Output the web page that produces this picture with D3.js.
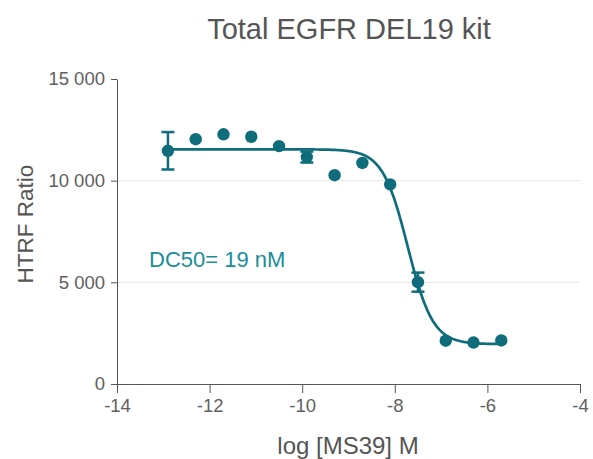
<!DOCTYPE html>
<html>
<head>
<meta charset="utf-8">
<script src="https://cdn.jsdelivr.net/npm/d3@7"></script>
<style>
  body { margin: 0; background: #fff; }
  text { font-family: "Liberation Sans", Arial, sans-serif; }
</style>
</head>
<body>
<div id="chart"></div>
<script>
// data
const logConc = [-12.9, -12.3, -11.7, -11.1, -10.5, -9.9, -9.3, -8.7, -8.1, -7.5, -6.9, -6.3, -5.7];
const htrf    = [11470, 12040, 12280, 12160, 11700, 11160, 10270, 10870, 9820, 5010, 2130, 2040, 2140];
const errs    = [920, 0, 0, 0, 0, 270, 0, 0, 0, 470, 0, 0, 0];
const xTicks = [-14, -12, -10, -8, -6, -4];
const yTicks = [0, 5000, 10000, 15000];
const gridLines = [5000, 10000];

// 4PL fit parameters
const fitTop = 11540, fitBottom = 1960, logDC50 = -7.72, hill = 1.6;

const width = 593, height = 459;
const margin = {top: 79, right: 13, bottom: 75, left: 117};
const teal = "#0f6d7b";

let svg = d3.select("#chart")
    .append("svg")
    .attr("width", width)
    .attr("height", height);

let x = d3.scaleLinear().domain([-14, -4]).range([margin.left, width - margin.right]);
let y = d3.scaleLinear().domain([0, 15000]).range([height - margin.bottom, margin.top]);

// gridlines
svg.append("g").selectAll("line")
    .data(gridLines)
    .enter().append("line")
    .attr("x1", x(-14)).attr("x2", x(-4) + 1)
    .attr("y1", d => y(d)).attr("y2", d => y(d))
    .attr("stroke", "#ebebeb")
    .attr("stroke-width", 1.2);

// axes
let fmt = d => d3.format(",")(d).replace(/,/g, " ");

let yAxis = svg.append("g")
    .attr("transform", `translate(${margin.left},0)`)
    .call(d3.axisLeft(y).tickValues(yTicks).tickFormat(fmt).tickSize(6).tickPadding(6).tickSizeOuter(0));

let xAxis = svg.append("g")
    .attr("transform", `translate(0,${height - margin.bottom})`)
    .call(d3.axisBottom(x).tickValues(xTicks).tickFormat(d => String(d)).tickSize(9).tickPadding(6).tickSizeOuter(0));

[yAxis, xAxis].forEach(function(a) {
    a.select(".domain").attr("stroke", "#555");
    a.selectAll(".tick line").attr("stroke", "#555");
    a.selectAll(".tick text")
        .attr("fill", "#606060")
        .style("font-size", "18.5px");
});

// fitted curve
let curveX = d3.range(logConc[0], logConc[logConc.length - 1] + 0.001, 0.02);
let fit = v => fitBottom + (fitTop - fitBottom) / (1 + Math.pow(10, (v - logDC50) * hill));

svg.append("path")
    .datum(curveX)
    .attr("fill", "none")
    .attr("stroke", teal)
    .attr("stroke-width", 2.7)
    .attr("d", d3.line().x(d => x(d)).y(d => y(fit(d))));

// error bars
let pts = logConc.map((c, i) => ({c: c, v: htrf[i], e: errs[i]}));
let eb = svg.append("g").selectAll("g")
    .data(pts.filter(d => d.e > 0))
    .enter().append("g")
    .attr("stroke", teal)
    .attr("stroke-width", 2.5);
eb.append("line")
    .attr("x1", d => x(d.c)).attr("x2", d => x(d.c))
    .attr("y1", d => y(d.v - d.e)).attr("y2", d => y(d.v + d.e));
[-1, 1].forEach(function(s) {
    eb.append("line")
        .attr("x1", d => x(d.c) - 6.5).attr("x2", d => x(d.c) + 6.5)
        .attr("y1", d => y(d.v + s * d.e)).attr("y2", d => y(d.v + s * d.e));
});

// points
svg.append("g").selectAll("circle")
    .data(pts)
    .enter().append("circle")
    .attr("cx", d => x(d.c))
    .attr("cy", d => y(d.v))
    .attr("r", 6.2)
    .attr("fill", teal);

// title
svg.append("text")
    .attr("x", 349).attr("y", 39)
    .style("text-anchor", "middle")
    .style("font-size", "29px")
    .attr("fill", "#555")
    .text("Total EGFR DEL19 kit");

// axis titles
svg.append("text")
    .attr("x", 348).attr("y", 454)
    .style("text-anchor", "middle")
    .style("font-size", "24px")
    .attr("fill", "#555")
    .text("log [MS39] M");

svg.append("text")
    .attr("transform", "translate(33,224) rotate(-90)")
    .style("text-anchor", "middle")
    .style("font-size", "22.5px")
    .attr("fill", "#555")
    .text("HTRF Ratio");

// annotation
svg.append("text")
    .attr("x", 149).attr("y", 266.5)
    .style("font-size", "22px")
    .attr("fill", "#1a8d9b")
    .text("DC50= 19 nM");
</script>
</body>
</html>
